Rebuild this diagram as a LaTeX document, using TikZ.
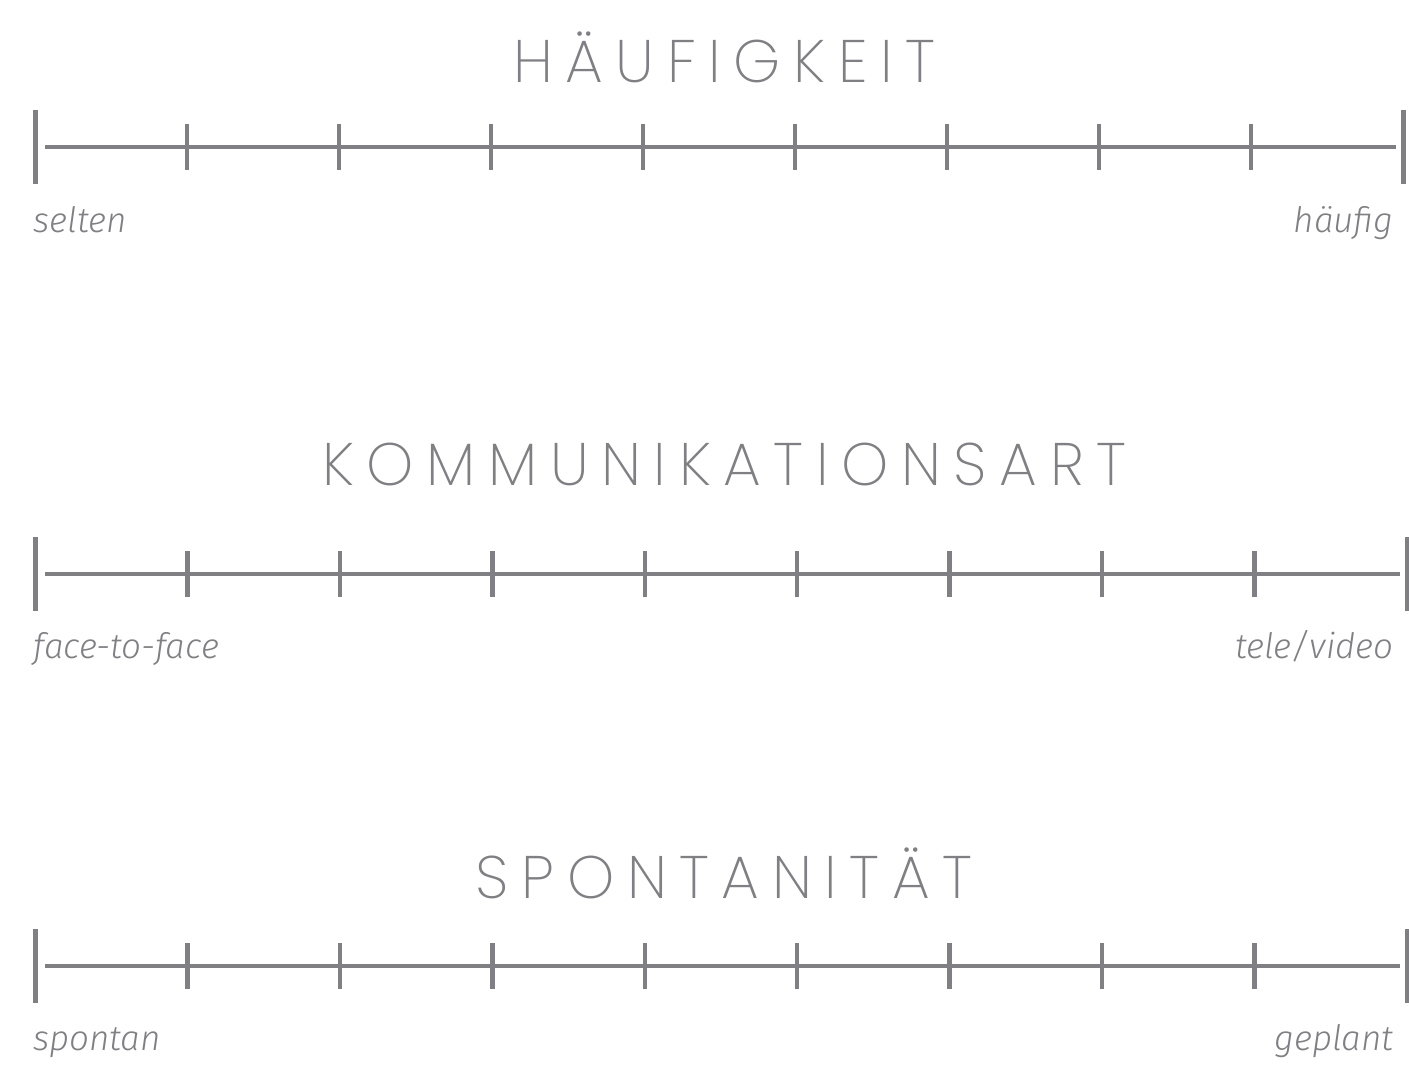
\documentclass[tikz,border=0pt]{standalone}
\usepackage{fontspec}
\usetikzlibrary{positioning,calc}
\newfontfamily\titlefont{Poppins ExtraLight}[LetterSpace=21]
\newfontfamily\labelfont{Fira Sans Light Italic}
\definecolor{scalegray}{RGB}{128,128,132}
\tikzset{
  endbar/.style={draw=scalegray, line width=2.5pt},
  tickbar/.style={draw=scalegray, line width=2.2pt},
  axisline/.style={draw=scalegray, line width=2.2pt},
  scaletitle/.style={text=scalegray, inner sep=0pt, anchor=base, font=\titlefont\fontsize{30}{30}\selectfont},
  endlabel/.style={text=scalegray, inner sep=0pt, font=\labelfont\fontsize{17.5}{17.5}\selectfont}
}

\begin{document}
\begin{tikzpicture}[x=0.5pt, y=-0.5pt]
\useasboundingbox (0,0) rectangle (1409,1070);

% three rating scales
\foreach \i/\ly/\ty/\by/\rx/\title/\lo/\hi in {
  1/147/83/233/1403/HÄUFIGKEIT/selten/häufig,
  2/574/485/658/1407/KOMMUNIKATIONSART/face-to-face/tele\slash video,
  3/966/898/1050/1407/SPONTANITÄT/spontan/geplant}
{
  \coordinate (L\i) at (35,\ly);
  \coordinate (R\i) at (\rx,\ly);
  \node[scaletitle] (T\i) at (724,\ty) {\title};
  \node[endlabel, anchor=base west] (lo\i) at (33,\by) {\lo};
  \node[endlabel, anchor=base east] (hi\i) at (1394,\by) {\hi};
  \draw[endbar] ($(L\i)+(0,-37)$) -- ($(L\i)+(0,37)$);
  \draw[endbar] ($(R\i)+(0,-37)$) -- ($(R\i)+(0,37)$);
  \draw[axisline] ($(L\i)+(10,0)$) -- ($(R\i)+(-7,0)$);
  \foreach \k in {1,...,8}
    \draw[tickbar] ($(L\i)!\k/9!(R\i)+(0,-23)$) -- ($(L\i)!\k/9!(R\i)+(0,23)$);
}
\end{tikzpicture}
\end{document}
